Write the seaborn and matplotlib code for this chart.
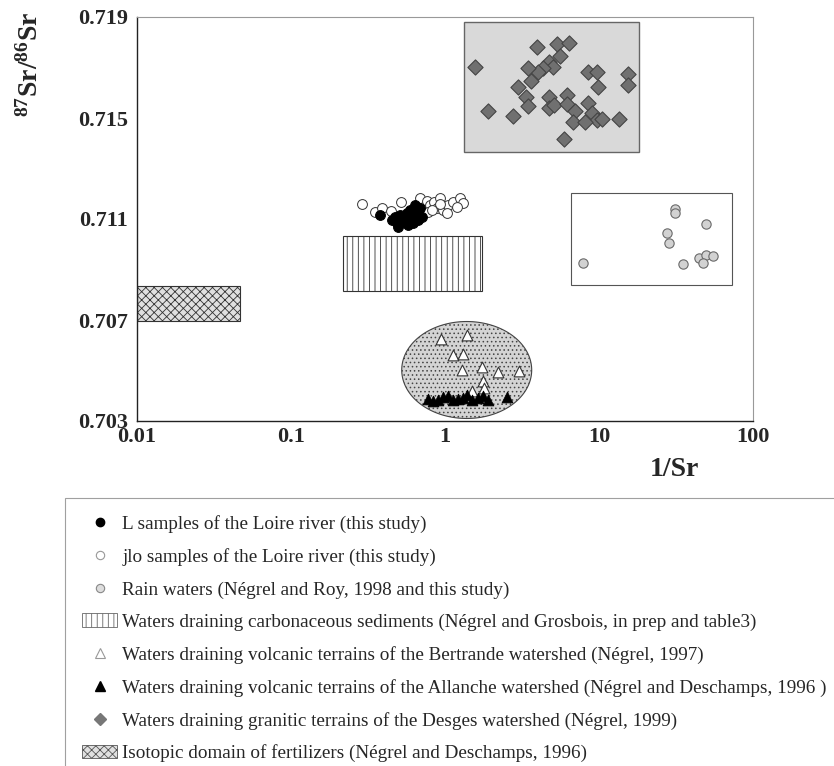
import numpy as np
import pandas as pd
import matplotlib.pyplot as plt
from matplotlib.patches import Rectangle, Patch
from matplotlib.lines import Line2D
import seaborn as sns

sns.set_style("white")
plt.rcParams['font.family'] = ['Liberation Serif', 'DejaVu Serif']
plt.rcParams['mathtext.fontset'] = 'custom'
plt.rcParams['mathtext.rm'] = 'Liberation Serif'
plt.rcParams['mathtext.bf'] = 'Liberation Serif:bold'
plt.rcParams['hatch.linewidth'] = 0.6

# L samples of the Loire river
l_inv = [0.451, 0.486, 0.498, 0.523, 0.550, 0.564, 0.593, 0.608, 0.622, 0.638,
         0.655, 0.671, 0.688, 0.578, 0.510, 0.473, 0.706, 0.622, 0.378]
l_ratio = [0.71096, 0.71083, 0.71069, 0.71103, 0.71089, 0.71123, 0.71136, 0.71109, 0.71083, 0.71155,
           0.71123, 0.71096, 0.71142, 0.71076, 0.71116, 0.71109, 0.71109, 0.71129, 0.71116]

# jlo samples of the Loire river
jlo_inv = [0.290, 0.351, 0.388, 0.446, 0.518, 0.688, 0.761, 0.800, 0.853, 0.929, 0.883,
           0.975, 1.05, 1.13, 1.25, 1.31, 1.03, 0.78, 1.19, 0.929, 0.82]
jlo_ratio = [0.71159, 0.71126, 0.71142, 0.71133, 0.71168, 0.71182, 0.71172, 0.71155, 0.71168, 0.71182, 0.71142,
             0.71136, 0.71155, 0.71168, 0.71182, 0.71162, 0.71123, 0.71129, 0.71149, 0.71159, 0.71136]

# rain waters
rain_inv = [7.84, 31.2, 31.2, 27.5, 28.6, 49.3, 35.0, 44.8, 49.5, 55.2, 47.1]
rain_ratio = [0.70924, 0.7114, 0.71123, 0.71043, 0.71006, 0.7108, 0.70921, 0.70947, 0.70957, 0.70953, 0.70924]

# Bertrande watershed (open triangles)
bert_inv = [0.942, 1.38, 1.13, 1.31, 1.28, 1.75, 2.22, 3.03, 1.77, 1.50, 1.80]
bert_ratio = [0.70624, 0.70641, 0.70561, 0.70564, 0.70502, 0.70513, 0.70493, 0.70499, 0.7046, 0.7042, 0.7043]

# Allanche watershed (black triangles)
alla_inv = [0.78, 0.836, 0.897, 0.975, 1.05, 1.13, 1.21, 1.31, 1.38, 1.50, 1.64, 1.77, 1.91, 2.52]
alla_ratio = [0.70386, 0.7038, 0.70383, 0.70394, 0.70399, 0.70383, 0.70387, 0.7039, 0.70403, 0.70383,
              0.7039, 0.70399, 0.70383, 0.70394]

# Desges watershed (diamonds)
desg_inv = [1.57, 3.94, 5.36, 6.41, 5.58, 4.75, 5.00, 4.35, 4.04, 3.47, 3.60, 2.99, 8.52, 9.66, 15.5, 15.5,
            9.9, 1.91, 2.78, 3.34, 3.47, 4.75, 4.75, 5.10, 6.22, 6.22, 6.98, 8.45, 8.97, 9.66, 10.4, 6.75,
            8.11, 13.4, 5.95]
desg_ratio = [0.71703, 0.7178, 0.71793, 0.71796, 0.71747, 0.71723, 0.71703, 0.71697, 0.71683, 0.71697,
              0.71648, 0.71624, 0.71681, 0.71681, 0.71674, 0.71631, 0.71624, 0.71529, 0.71509, 0.71582,
              0.71549, 0.71584, 0.71541, 0.71551, 0.71591, 0.71554, 0.71529, 0.71558, 0.71519, 0.71492,
              0.71496, 0.71485, 0.71483, 0.71495, 0.71416]

# domains: (x_min, x_max, y_min, y_max)
granite_box = (1.33, 18.2, 0.71365, 0.7188)
rain_box = (6.58, 73.4, 0.70839, 0.71202)
carbonate_box = (0.218, 1.74, 0.70815, 0.71033)
fertilizer_box = (0.01, 0.0467, 0.70697, 0.70835)
# volcanic ellipse: log10 centre, log half-width, centre ratio, half-height
volcanic_ellipse = (0.141, 0.422, 0.70502, 0.00192)

labels = [
    "L samples of the Loire river (this study)",
    "jlo samples of the Loire river (this study)",
    "Rain waters (Négrel and Roy, 1998 and this study)",
    "Waters draining carbonaceous sediments (Négrel and Grosbois, in prep and table3)",
    "Waters draining volcanic terrains of the Bertrande watershed (Négrel, 1997)",
    "Waters draining volcanic terrains of the Allanche watershed (Négrel and Deschamps, 1996 )",
    "Waters draining granitic terrains of the Desges watershed (Négrel, 1999)",
    "Isotopic domain of fertilizers (Négrel and Deschamps, 1996)",
]

fig = plt.figure(figsize=(8.34, 7.66), dpi=100)
ax = fig.add_axes([137 / 834, 1 - 421 / 766, 616 / 834, 404 / 766])
ax.set_xscale('log')
ax.set_xlim(0.01, 100)
ax.set_ylim(0.703, 0.719)


def box(b, **kw):
    ax.add_patch(Rectangle((b[0], b[2]), b[1] - b[0], b[3] - b[2], zorder=1, **kw))


box(granite_box, facecolor='#d9d9d9', edgecolor='#666666', lw=1.0)
box(rain_box, facecolor='white', edgecolor='#555555', lw=0.8)
box(carbonate_box, facecolor='white', edgecolor='#333333', lw=0.8, hatch='|||')
box(fertilizer_box, facecolor='#e0e0e0', edgecolor='#333333', lw=0.8, hatch='xxxx')

t = np.linspace(0, 2 * np.pi, 200)
cx, ax_w, cy, ax_h = volcanic_ellipse
ax.fill(10 ** (cx + ax_w * np.cos(t)), cy + ax_h * np.sin(t), facecolor='#d4d4d4',
        edgecolor='#444444', lw=0.8, hatch='....', zorder=1)

sns.scatterplot(x=desg_inv, y=desg_ratio, ax=ax, marker='D', s=60, color='#707070',
                edgecolor='#444444', linewidth=0.8, zorder=3)
sns.scatterplot(x=rain_inv, y=rain_ratio, ax=ax, marker='o', s=45, color='#d2d2d2',
                edgecolor='#6a6a6a', linewidth=0.8, zorder=3)
sns.scatterplot(x=jlo_inv, y=jlo_ratio, ax=ax, marker='o', s=50, color='white',
                edgecolor='#333333', linewidth=0.7, zorder=3)
sns.scatterplot(x=l_inv, y=l_ratio, ax=ax, marker='o', s=50, color='black',
                edgecolor='black', linewidth=0.7, zorder=4)
sns.scatterplot(x=bert_inv, y=bert_ratio, ax=ax, marker='^', s=60, color='white',
                edgecolor='#333333', linewidth=0.8, zorder=3)
sns.scatterplot(x=alla_inv, y=alla_ratio, ax=ax, marker='^', s=60, color='black',
                edgecolor='black', linewidth=0.6, zorder=4)

ax.set_xticks([0.01, 0.1, 1, 10, 100])
ax.set_xticklabels(['0.01', '0.1', '1', '10', '100'])
ax.set_yticks([0.703, 0.707, 0.711, 0.715, 0.719])
ax.set_yticklabels(['0.703', '0.707', '0.711', '0.715', '0.719'])
ax.minorticks_off()
ax.tick_params(axis='y', direction='out', length=5, width=0.8, pad=1.5, labelsize=16)
ax.tick_params(axis='x', direction='in', length=5, width=0.8, pad=4, labelsize=16)
for lab in ax.get_xticklabels() + ax.get_yticklabels():
    lab.set_fontweight('bold')
for side in ['left', 'bottom']:
    ax.spines[side].set_color('#222222')
    ax.spines[side].set_linewidth(1.0)
for side in ['top', 'right']:
    ax.spines[side].set_color('#999999')
    ax.spines[side].set_linewidth(0.8)

fig.text(30 / 834, 1 - 64 / 766, r'$\mathbf{^{87}Sr/^{86}Sr}$', rotation=90,
         ha='center', va='center', fontsize=20)
fig.text(674 / 834, 1 - 470 / 766, '1/Sr', ha='center', va='center',
         fontsize=20, fontweight='bold')

handles = [
    Line2D([], [], ls='', marker='o', markersize=6, color='black'),
    Line2D([], [], ls='', marker='o', markersize=6, mfc='white', mec='#999999', mew=0.8),
    Line2D([], [], ls='', marker='o', markersize=6, mfc='#dddddd', mec='#888888', mew=0.8),
    Patch(facecolor='white', edgecolor='#666666', hatch='|||', lw=0.6),
    Line2D([], [], ls='', marker='^', markersize=7, mfc='white', mec='#999999', mew=0.8),
    Line2D([], [], ls='', marker='^', markersize=7, color='black'),
    Line2D([], [], ls='', marker='D', markersize=6, color='#777777'),
    Patch(facecolor='#e0e0e0', edgecolor='#555555', hatch='xxxx', lw=0.6),
]
leg = fig.legend(handles, labels, loc='upper left', bbox_to_anchor=(65 / 834, 1 - 498 / 766),
                 frameon=True, fancybox=False, fontsize=13.8, labelspacing=0.78,
                 handlelength=1.8, handletextpad=0.3, borderpad=0.9, borderaxespad=0)
leg.get_frame().set_edgecolor('#888888')
leg.get_frame().set_linewidth(0.8)

fig.savefig('out.png', dpi=100)
